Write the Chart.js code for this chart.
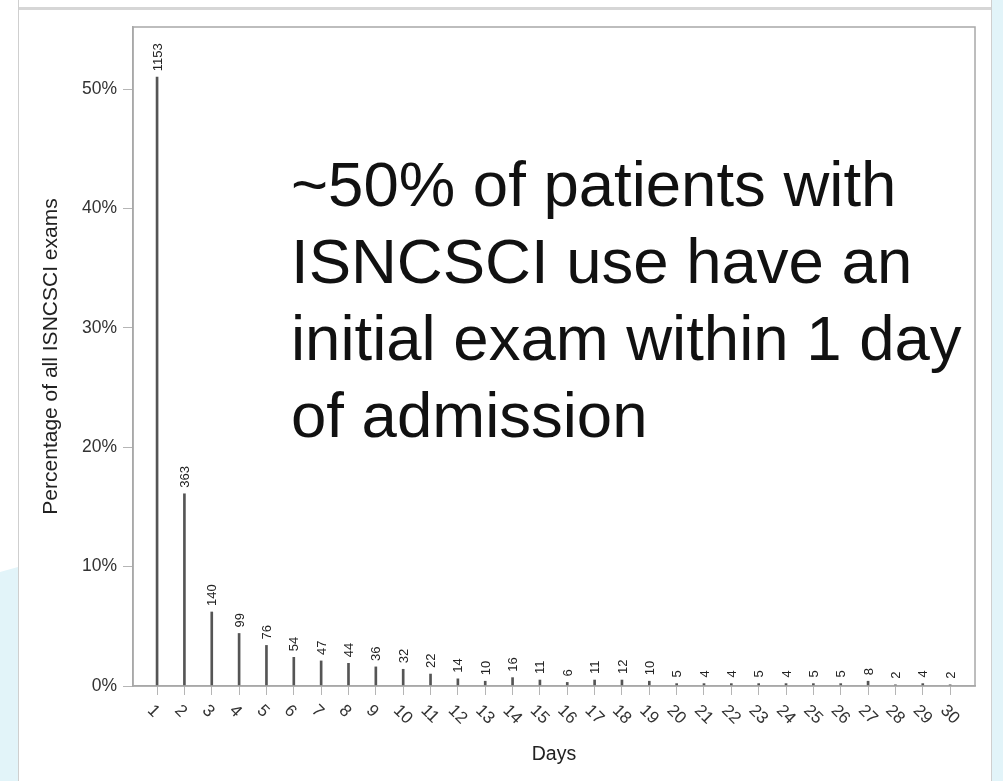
<!DOCTYPE html>
<html>
<head>
<meta charset="utf-8">
<title>ISNCSCI initial exam timing</title>
<script src="https://cdn.jsdelivr.net/npm/chart.js@4.4.1/dist/chart.umd.min.js"></script>
<style>
  html, body { margin: 0; padding: 0; width: 1003px; height: 781px; overflow: hidden; background: #fff; }
  .bg-left { position: absolute; left: 0; top: 560px; width: 18px; height: 221px; background: #e2f4f9;
             clip-path: polygon(0 12px, 100% 7px, 100% 100%, 0 100%); }
  .bg-right { position: absolute; left: 992px; top: 0; width: 11px; height: 781px; background: #e2f4f9; }
  .line-left { position: absolute; left: 18px; top: 0; width: 1px; height: 781px; background: #cfcfcf; }
  .line-right { position: absolute; left: 991px; top: 0; width: 1px; height: 781px; background: #cfcfcf; }
  .band { position: absolute; left: 19px; top: 7px; width: 972px; height: 3px; background: #d6d6d6; }
  #wrap { position: absolute; left: 0; top: 0; width: 1003px; height: 781px; }
  .note { position: absolute; left: 291px; top: 146px; font-family: "Liberation Sans", Arial, sans-serif;
          font-size: 63.5px; line-height: 77px; color: #111; white-space: nowrap; pointer-events: none; }
</style>
</head>
<body>
<div class="bg-left"></div>
<div class="bg-right"></div>
<div class="line-left"></div>
<div class="line-right"></div>
<div class="band"></div>
<div id="wrap"><canvas id="chart" width="1003" height="781"></canvas></div>
<div class="note">~50% of patients with<br>ISNCSCI use have an<br>initial exam within 1 day<br>of admission</div>

<script>
// data
const days = [1, 2, 3, 4, 5, 6, 7, 8, 9, 10, 11, 12, 13, 14, 15,
              16, 17, 18, 19, 20, 21, 22, 23, 24, 25, 26, 27, 28, 29, 30];
const percents = [51.0, 16.1, 6.2, 4.4, 3.4, 2.4, 2.1, 1.9, 1.6, 1.4, 1.0, 0.6, 0.4, 0.7, 0.5,
                  0.3, 0.5, 0.5, 0.4, 0.2, 0.2, 0.2, 0.2, 0.2, 0.2, 0.2, 0.4, 0.1, 0.2, 0.1];
const counts = [1153, 363, 140, 99, 76, 54, 47, 44, 36, 32, 22, 14, 10, 16, 11,
                6, 11, 12, 10, 5, 4, 4, 5, 4, 5, 5, 8, 2, 4, 2];
const yTicks = [0, 10, 20, 30, 40, 50];

Chart.defaults.font.family = '"Liberation Sans", Arial, sans-serif';

const frameColor = "#a8a8a8";

// box round the plot, count labels over the needles, slanted day labels
const needleLabels = {
    id: "needleLabels",
    afterDraw(chart) {
        const ctx = chart.ctx;
        const area = chart.chartArea;

        ctx.save();
        ctx.strokeStyle = frameColor;
        ctx.lineWidth = 1.5;
        ctx.strokeRect(area.left, area.top, area.right - area.left, area.bottom - area.top);
        ctx.restore();

        const meta = chart.getDatasetMeta(0);
        ctx.save();
        ctx.fillStyle = "#222";
        ctx.font = '13px "Liberation Sans", Arial, sans-serif';
        meta.data.forEach((bar, i) => {
            ctx.save();
            ctx.translate(bar.x + 1, bar.y - 6);
            ctx.rotate(-Math.PI / 2);
            ctx.textAlign = "left";
            ctx.textBaseline = "middle";
            ctx.fillText(String(counts[i]), 0, 0);
            ctx.restore();
        });
        ctx.restore();

        const xs = chart.scales.x;
        ctx.save();
        ctx.fillStyle = "#333";
        ctx.font = '17px "Liberation Sans", Arial, sans-serif';
        days.forEach((d) => {
            const x = xs.getPixelForValue(d);
            ctx.save();
            ctx.translate(x - 7, area.bottom + 22);
            ctx.rotate(Math.PI / 4);
            ctx.textAlign = "left";
            ctx.textBaseline = "middle";
            ctx.fillText(String(d), 0, 0);
            ctx.restore();
        });
        ctx.restore();
    },
};

new Chart(document.getElementById("chart"), {
    type: "bar",
    data: {
        datasets: [
            {
                data: days.map((d, i) => ({ x: d, y: percents[i] })),
                backgroundColor: "#555",
                borderWidth: 0,
                barThickness: 2,
            },
        ],
    },
    options: {
        responsive: false,
        animation: false,
        devicePixelRatio: 1,
        layout: { padding: { left: 35, top: 27, right: 28, bottom: 11 } },
        plugins: {
            legend: { display: false },
            tooltip: { enabled: false },
        },
        scales: {
            x: {
                type: "linear",
                offset: false,
                min: 0.12,
                max: 30.91,
                afterFit(scale) { scale.height = 84; },
                grid: { offset: false, drawOnChartArea: false, tickLength: 9, color: "#b5b5b5" },
                border: { color: frameColor, width: 1.5 },
                ticks: { stepSize: 1, includeBounds: false, autoSkip: false, display: false },
                title: { display: true, text: "Days", color: "#222", font: { size: 19.5 } },
            },
            y: {
                min: 0,
                max: 55.2,
                afterFit(scale) { scale.width = 98; },
                afterBuildTicks(scale) { scale.ticks = yTicks.map((v) => ({ value: v })); },
                grid: { drawOnChartArea: false, tickLength: 10, color: "#b5b5b5" },
                border: { color: frameColor, width: 1.5 },
                ticks: {
                    padding: 6,
                    color: "#333",
                    font: { size: 17.5 },
                    callback: (v) => v + "%",
                },
                title: {
                    display: true,
                    text: "Percentage of all ISNCSCI exams",
                    color: "#222",
                    font: { size: 21 },
                },
            },
        },
    },
    plugins: [needleLabels],
});
</script>
</body>
</html>
